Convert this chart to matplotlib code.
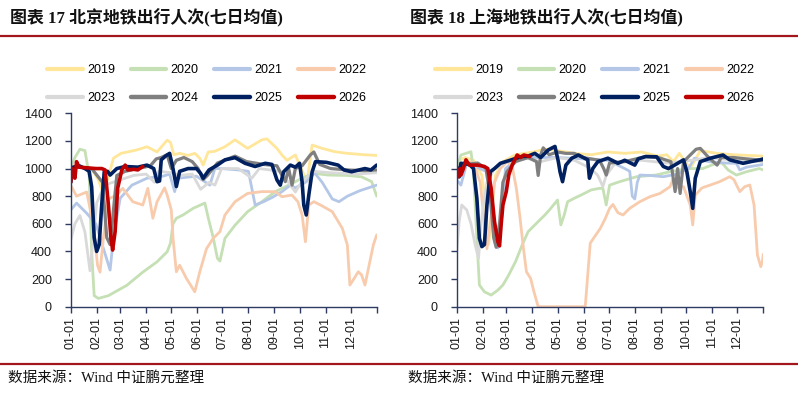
import matplotlib
matplotlib.use('Agg')
import matplotlib.pyplot as plt
from matplotlib.lines import Line2D

YEARS = ['2019', '2020', '2021', '2022', '2023', '2024', '2025', '2026']
COLORS = ['#FFE699', '#C5E0B4', '#B4C7E7', '#F8CBAD', '#D9D9D9', '#7F7F7F', '#002060', '#C00000']
WIDTHS = [2.0, 2.0, 2.0, 2.0, 2.0, 2.3, 2.6, 2.6]
MONTH_STARTS = [0, 31, 59, 90, 120, 151, 181, 212, 243, 273, 304, 334, 365]
MONTH_LABELS = ['01-01', '02-01', '03-01', '04-01', '05-01', '06-01', '07-01',
                '08-01', '09-01', '10-01', '11-01', '12-01', '']
Y_TICKS = [0, 200, 400, 600, 800, 1000, 1200, 1400]

# ---------------- Beijing (day of year, value) ----------------
BJ_2019 = [(0, 1000), (10, 1020), (25, 1000), (33, 920), (38, 830), (44, 920), (51, 1075), (60, 1110),
           (79, 1135), (91, 1158), (103, 1120), (115, 1205), (119, 1190), (123, 1100), (130, 1110),
           (140, 1095), (148, 1110), (154, 1075), (158, 1025), (164, 1120), (172, 1125), (184, 1158),
           (196, 1208), (211, 1146), (228, 1208), (234, 1215), (246, 1146), (252, 1098), (258, 1060),
           (268, 1098), (273, 1025), (282, 905), (288, 1170), (300, 1146), (315, 1122), (330, 1110),
           (350, 1100), (365, 1095)]
BJ_2020 = [(0, 1000), (5, 1080), (11, 1140), (17, 1130), (22, 950), (25, 400), (28, 80), (33, 60),
           (45, 80), (67, 155), (86, 250), (103, 325), (115, 397), (119, 460), (122, 600), (126, 640),
           (134, 664), (146, 712), (160, 750), (165, 620), (170, 500), (175, 350), (178, 330),
           (184, 495), (196, 590), (211, 688), (228, 760), (244, 833), (260, 880), (276, 930),
           (290, 965), (307, 953), (330, 950), (347, 940), (359, 905), (365, 800)]
BJ_2021 = [(0, 700), (7, 750), (19, 677), (30, 600), (39, 422), (47, 265), (51, 500), (59, 785),
           (73, 880), (91, 930), (110, 945), (118, 960), (124, 833), (128, 930), (150, 945),
           (166, 880), (172, 1000), (180, 1000), (200, 990), (212, 980), (220, 736), (230, 760),
           (240, 790), (252, 833), (262, 880), (268, 860), (280, 900), (291, 968), (300, 900),
           (312, 780), (320, 760), (330, 800), (345, 840), (365, 880)]
BJ_2022 = [(0, 880), (7, 800), (19, 830), (27, 600), (32, 300), (35, 250), (39, 500), (45, 780),
           (55, 808), (62, 857), (74, 760), (86, 736), (92, 857), (98, 640), (103, 760), (112, 860),
           (115, 810), (120, 700), (122, 500), (126, 253), (130, 300), (138, 205), (148, 108),
           (154, 253), (162, 420), (170, 495), (178, 543), (184, 664), (196, 760), (211, 820),
           (228, 833), (244, 833), (252, 796), (264, 808), (271, 760), (276, 664), (280, 470),
           (284, 736), (290, 760), (298, 736), (312, 688), (324, 567), (330, 447), (333, 157),
           (337, 194), (343, 253), (347, 230), (351, 157), (356, 302), (361, 447), (365, 520)]
BJ_2023 = [(0, 480), (5, 600), (11, 660), (17, 540), (23, 260), (27, 500), (31, 750), (40, 880),
           (50, 900), (60, 920), (75, 950), (90, 960), (100, 900), (105, 980), (120, 970),
           (130, 950), (145, 960), (155, 850), (165, 900), (172, 880), (180, 1000), (200, 1000),
           (216, 930), (225, 1000), (250, 980), (268, 830), (275, 900), (290, 980), (310, 970),
           (340, 960), (365, 970)]
BJ_2024 = [(0, 1000), (10, 1010), (25, 1000), (38, 900), (43, 500), (47, 450), (51, 700), (55, 950),
           (65, 980), (80, 1000), (95, 1020), (102, 1070), (108, 1080), (115, 1100), (120, 1000),
           (126, 1060), (135, 1080), (145, 1050), (152, 1000), (158, 920), (163, 950), (175, 1040),
           (196, 1090), (210, 1050), (230, 1030), (246, 1020), (256, 905), (260, 1000), (264, 880),
           (268, 1000), (276, 1020), (286, 1100), (290, 1120), (297, 1030), (310, 1000),
           (330, 990), (350, 985), (365, 990)]
BJ_2025 = [(0, 900), (3, 1010), (10, 1020), (17, 1000), (22, 980), (25, 867), (28, 500), (31, 400),
           (34, 450), (37, 736), (40, 977), (44, 980), (47, 953), (55, 1000), (65, 1015), (80, 1010),
           (91, 1025), (99, 1000), (103, 905), (106, 910), (108, 1063), (113, 1090), (118, 1110),
           (122, 1000), (126, 870), (130, 980), (140, 1000), (150, 1000), (155, 965), (158, 930),
           (165, 990), (175, 1025), (184, 1063), (196, 1079), (208, 1038), (220, 1015), (232, 1038),
           (240, 1030), (246, 918), (250, 880), (254, 977), (262, 1025), (268, 1010), (273, 1038),
           (276, 905), (278, 736), (281, 664), (284, 808), (288, 977), (292, 1050), (305, 1045),
           (319, 1025), (326, 990), (335, 977), (351, 1000), (358, 990), (365, 1025)]
BJ_2026 = [(0, 900), (2, 1000), (5, 930), (7, 1050), (10, 1010), (20, 1005), (30, 1000), (37, 1000),
           (41, 990), (45, 736), (48, 500), (50, 410), (53, 543), (56, 857), (61, 990), (65, 1025),
           (68, 990), (75, 995), (80, 990), (86, 1015)]

# ---------------- Shanghai (day of year, value) ----------------
SH_2019 = [(0, 1050), (10, 1080), (20, 1060), (30, 950), (35, 700), (38, 450), (42, 700), (46, 950),
           (55, 1050), (70, 1100), (91, 1120), (105, 1140), (120, 1130), (140, 1110), (160, 1100),
           (180, 1120), (200, 1110), (220, 1120), (240, 1090), (250, 1100), (258, 1050),
           (265, 1110), (278, 1000), (290, 1130), (310, 1110), (330, 1100), (365, 1090)]
SH_2020 = [(0, 1000), (5, 1098), (17, 1122), (20, 977), (24, 495), (27, 157), (33, 108), (41, 84),
           (49, 120), (55, 157), (62, 230), (70, 326), (78, 447), (85, 543), (95, 604), (105, 664),
           (112, 712), (120, 772), (124, 592), (128, 664), (132, 760), (140, 785), (148, 808),
           (160, 845), (170, 857), (174, 857), (178, 736), (182, 880), (194, 905), (214, 941),
           (237, 953), (254, 977), (275, 1000), (293, 1000), (309, 1038), (316, 1040), (323, 990),
           (333, 953), (345, 977), (360, 1000), (365, 990)]
SH_2021 = [(0, 920), (5, 880), (12, 1040), (20, 1020), (35, 980), (42, 700), (46, 450), (49, 425),
           (53, 600), (58, 1000), (70, 1060), (90, 1080), (120, 1080), (150, 1070), (180, 1060),
           (200, 1000), (206, 980), (209, 800), (212, 780), (215, 900), (218, 953), (230, 950),
           (246, 941), (262, 960), (276, 1000), (283, 1075), (300, 1050), (320, 1040), (333, 1038),
           (337, 990), (345, 1010), (365, 1030)]
SH_2022 = [(0, 1000), (10, 1050), (20, 1040), (28, 900), (33, 600), (36, 420), (40, 600), (45, 900),
           (52, 1000), (60, 1050), (66, 1020), (71, 857), (75, 664), (79, 447), (83, 253), (88, 205),
           (92, 108), (97, 0), (153, 0), (159, 460), (164, 505), (171, 567), (177, 640), (182, 712),
           (186, 740), (192, 680), (198, 664), (206, 712), (218, 760), (230, 796), (242, 820),
           (254, 869), (258, 930), (262, 860), (270, 869), (278, 736), (281, 592), (284, 808),
           (292, 860), (302, 881), (313, 905), (325, 941), (330, 920), (337, 833), (343, 869),
           (349, 881), (354, 736), (358, 374), (362, 290), (364, 330), (365, 380)]
SH_2023 = [(0, 400), (3, 617), (6, 736), (12, 700), (17, 600), (22, 447), (26, 350), (29, 600),
           (32, 750), (36, 900), (45, 1000), (60, 1050), (80, 1080), (100, 1050), (120, 1080),
           (140, 1060), (160, 1000), (168, 950), (174, 870), (178, 950), (190, 1050), (220, 1060),
           (250, 1040), (280, 1060), (300, 1080), (330, 1060), (365, 1050)]
SH_2024 = [(0, 1000), (10, 1030), (25, 1040), (35, 1000), (40, 800), (44, 500), (47, 430), (51, 600),
           (55, 900), (60, 980), (70, 1050), (85, 1080), (95, 1050), (97, 950), (100, 1100),
           (103, 1150), (110, 1100), (120, 1120), (130, 1110), (140, 1110), (150, 1080), (160, 1070),
           (170, 1060), (175, 1000), (178, 953), (182, 1040), (200, 1050), (225, 1087), (240, 1080),
           (255, 1050), (260, 833), (263, 1000), (266, 820), (270, 1050), (285, 1140), (290, 1146),
           (300, 1080), (310, 1025), (315, 1080), (330, 1080), (345, 1070), (365, 1060)]
SH_2025 = [(0, 953), (2, 1000), (3, 940), (5, 1038), (15, 1030), (20, 1000), (24, 785), (27, 495),
           (30, 435), (33, 450), (36, 736), (40, 977), (45, 1000), (52, 1038), (65, 1063), (77, 1087),
           (85, 1090), (93, 1110), (100, 1080), (109, 1135), (117, 1160), (121, 1050), (123, 977),
           (126, 905), (130, 1025), (137, 1075), (145, 1098), (156, 1063), (158, 930), (162, 1000),
           (168, 1050), (180, 1075), (192, 1038), (200, 1060), (212, 1025), (216, 1070), (225, 1087),
           (238, 1085), (246, 1015), (252, 1000), (258, 1020), (270, 1063), (274, 977), (278, 833),
           (281, 712), (284, 930), (290, 1050), (302, 1075), (317, 1098), (325, 1063), (341, 1038),
           (350, 1050), (361, 1063), (365, 1070)]
SH_2026 = [(0, 977), (2, 941), (4, 1000), (5, 953), (8, 1000), (11, 1063), (15, 1025), (25, 1025),
           (33, 1015), (37, 1000), (41, 857), (45, 615), (49, 470), (51, 440), (53, 600), (55, 736),
           (59, 833), (62, 953), (66, 1025), (72, 1098), (76, 1080), (80, 1098), (87, 1087)]

BEIJING = [BJ_2019, BJ_2020, BJ_2021, BJ_2022, BJ_2023, BJ_2024, BJ_2025, BJ_2026]
SHANGHAI = [SH_2019, SH_2020, SH_2021, SH_2022, SH_2023, SH_2024, SH_2025, SH_2026]

TITLE_BJ = '图表 17 北京地铁出行人次(七日均值)'
TITLE_SH = '图表 18 上海地铁出行人次(七日均值)'
SOURCE = '数据来源：Wind 中证鹏元整理'

W, H = 798, 393
SPINE = '#2E3B63'
TICKFONT = 'Liberation Sans'

fig = plt.figure(figsize=(W / 100, H / 100), dpi=100)


def fx(px):
    return px / W


def fy(py):
    return 1 - py / H


def draw(ax, series, legend_x):
    handles = []
    for yr, s, c, lw in zip(YEARS, series, COLORS, WIDTHS):
        d = [p[0] for p in s]
        v = [p[1] for p in s]
        ln, = ax.plot(d, v, color=c, lw=lw, label=yr, solid_joinstyle='round',
                      solid_capstyle='round')
        handles.append(ln)
    ax.set_xlim(0, 365)
    ax.set_ylim(0, 1400)
    ax.set_xticks(MONTH_STARTS)
    ax.set_xticklabels(MONTH_LABELS, rotation=90, fontfamily=TICKFONT, fontsize=9)
    ax.set_yticks(Y_TICKS)
    ax.set_yticklabels([str(t) for t in Y_TICKS], fontfamily=TICKFONT, fontsize=9)
    for side in ('top', 'right'):
        ax.spines[side].set_visible(False)
    for side in ('left', 'bottom'):
        ax.spines[side].set_color(SPINE)
        ax.spines[side].set_linewidth(1.0)
    ax.tick_params(axis='y', direction='out', length=4, width=1, color=SPINE, pad=9.5,
                   labelcolor='#1a1a1a')
    ax.tick_params(axis='x', direction='out', length=4, width=1, color=SPINE, pad=3.5,
                   labelcolor='#1a1a1a')
    ax.patch.set_alpha(0)
    order = [0, 4, 1, 5, 2, 6, 3, 7]
    leg = ax.legend([handles[i] for i in order], [YEARS[i] for i in order], ncol=4,
                    loc='upper left', bbox_to_anchor=(fx(legend_x), fy(64)),
                    bbox_transform=fig.transFigure, frameon=False,
                    prop={'family': TICKFONT, 'size': 9}, handlelength=2.85,
                    handletextpad=0.35, columnspacing=1.25, labelspacing=1.3,
                    borderpad=0, borderaxespad=0)
    for lh, i in zip(leg.get_lines(), order):
        lh.set_linewidth(3.0 if i < 5 else 3.2)


ax1 = fig.add_axes([fx(70.7), fy(306.7), fx(306.0), 193.4 / H])
draw(ax1, BEIJING, 47)
ax2 = fig.add_axes([fx(456.7), fy(306.7), fx(306.6), 193.4 / H])
draw(ax2, SHANGHAI, 435)

title_font = dict(family=['Liberation Serif', 'Noto Sans CJK SC'], fontsize=12.2,
                  fontweight='bold', color='#111111')
fig.text(fx(10), fy(18), TITLE_BJ, ha='left', va='center', **title_font)
fig.text(fx(410), fy(18), TITLE_SH, ha='left', va='center', **title_font)

red = '#A3161C'
fig.add_artist(Line2D([0, 1], [fy(36), fy(36)], transform=fig.transFigure, color=red, lw=1.6))
fig.add_artist(Line2D([0, 1], [fy(363.5), fy(363.5)], transform=fig.transFigure, color=red, lw=1.6))

src_font = dict(family=['Liberation Serif', 'Noto Sans CJK SC'], fontsize=10.5, color='#111111')
fig.text(fx(8), fy(378), SOURCE, ha='left', va='center', **src_font)
fig.text(fx(408), fy(378), SOURCE, ha='left', va='center', **src_font)

fig.savefig('out.png', dpi=100)
